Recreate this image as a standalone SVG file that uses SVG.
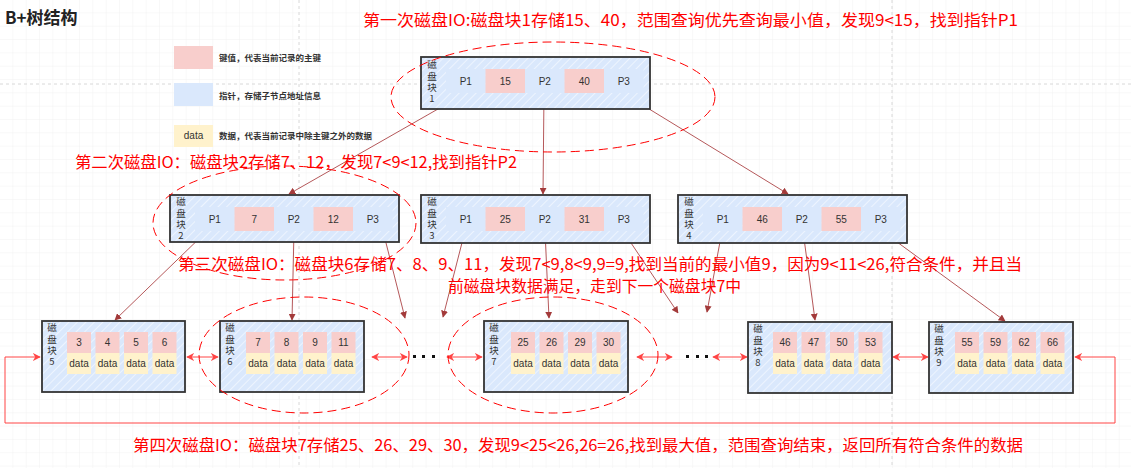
<svg xmlns="http://www.w3.org/2000/svg" width="1131" height="468" viewBox="0 0 1131 468">
<defs>
<style>
.cjk{font-family:"Noto Sans CJK SC","Noto Sans",sans-serif}
.red{fill:#ff0000;font-size:16px}
.leg{fill:#333;font-size:8.5px;font-weight:bold}
.box{fill:url(#hatch);stroke:#333;stroke-width:1.8}
.pc{fill:#dae8fc}
.kc{fill:#f8cecc}
.dc{fill:#fff2cc}
.ct{font-family:"Liberation Sans",Arial,sans-serif;font-size:10px;fill:#333;text-anchor:middle}
.lb{font-family:"Noto Sans CJK SC",sans-serif;font-size:9.5px;fill:#333;writing-mode:vertical-rl;text-orientation:upright;letter-spacing:1.8px}
.ell{fill:none;stroke:#ff0000;stroke-width:1;stroke-dasharray:9 5}
.tree{stroke:#b5585a;stroke-width:1;fill:none;marker-end:url(#ah)}
.link{stroke:#f44;stroke-width:1;fill:none;marker-end:url(#ra);marker-start:url(#ra)}
</style>
<pattern id="grid" width="13.33" height="13.33" patternUnits="userSpaceOnUse">
<path d="M13.33 0V13.33H0" fill="none" stroke="#eeeeee" stroke-width="0.8"/>
</pattern>
<pattern id="hatch" width="6" height="6" patternUnits="userSpaceOnUse" patternTransform="rotate(45)">
<rect width="6" height="6" fill="#dae8fc"/>
<line x1="0" y1="0" x2="0" y2="6" stroke="#ffffff" stroke-width="1.4" opacity="0.75"/>
</pattern>
<marker id="ah" viewBox="0 0 10 10" refX="9" refY="5" markerWidth="7" markerHeight="7" markerUnits="userSpaceOnUse" orient="auto">
<path d="M0 0L10 5L0 10z" fill="#a33a3a"/>
</marker>
<marker id="ra" viewBox="0 0 10 10" refX="9" refY="5" markerWidth="8" markerHeight="8" markerUnits="userSpaceOnUse" orient="auto-start-reverse">
<path d="M0 0L10 5L0 10L3 5z" fill="#f44"/>
</marker>
</defs>
<rect width="1131" height="468" fill="#ffffff"/>
<rect width="1131" height="468" fill="url(#grid)"/>
<g stroke="#d8d8d8" stroke-width="1" stroke-dasharray="3 3" fill="none">
<path d="M0 84H1131"/>
<path d="M299 0V468"/>
<path d="M892 0V468"/>
</g>

<text x="5" y="24" class="cjk" font-size="17" font-weight="bold" fill="#222">B+树结构</text>

<g id="legend">
<rect x="174" y="46" width="39" height="23" class="kc"/>
<text x="219" y="61" class="cjk leg">键值，代表当前记录的主键</text>
<rect x="174" y="83" width="39" height="23" class="pc"/>
<text x="219" y="99" class="cjk leg">指针，存储子节点地址信息</text>
<rect x="174" y="125" width="39" height="22" class="dc"/>
<text x="193.5" y="139" class="ct" font-size="8.5">data</text>
<text x="219" y="139" class="cjk leg">数据，代表当前记录中除主键之外的数据</text>
</g>

<g id="connectors">
<path class="tree" d="M466 93L289 194"/>
<path class="tree" d="M544 93L543 194"/>
<path class="tree" d="M623 93L788 194"/>
<path class="tree" d="M207 231L115 320"/>
<path class="tree" d="M294 231L292 320"/>
<path class="tree" d="M383 231L405 318"/>
<path class="tree" d="M465 231L443 317"/>
<path class="tree" d="M545 231L549 318"/>
<path class="tree" d="M623 231L678 313"/>
<path class="tree" d="M722 231L707 312"/>
<path class="tree" d="M803 231L815 320"/>
<path class="tree" d="M882 231L1005 321"/>
<path class="link" d="M187 357H218"/>
<path class="link" d="M372 357H407"/>
<path class="link" d="M447 357H482"/>
<path class="link" d="M637 357H672"/>
<path class="link" d="M713 357H747"/>
<path class="link" d="M893 357H928"/>
<path class="link" d="M1075 357H1115V423H5V357H40"/>
</g>

<g id="root">
<rect x="421" y="57" width="229" height="52" class="box"/>
<text x="432" y="60" class="lb">磁盘块1</text>
<rect x="446" y="69" width="39.5" height="24" class="pc"/>
<rect x="485.5" y="69" width="39.5" height="24" class="kc"/>
<rect x="525" y="69" width="39.5" height="24" class="pc"/>
<rect x="564.5" y="69" width="39.5" height="24" class="kc"/>
<rect x="604" y="69" width="39.5" height="24" class="pc"/>
<text class="ct" y="85"><tspan x="465.75">P1</tspan><tspan x="505.25">15</tspan><tspan x="544.75">P2</tspan><tspan x="584.25">40</tspan><tspan x="623.75">P3</tspan></text>
</g>

<g id="node2">
<rect x="170" y="195" width="229" height="47" class="box"/>
<text x="181" y="197" class="lb">磁盘块2</text>
<rect x="195" y="207" width="39.5" height="24" class="pc"/>
<rect x="234.5" y="207" width="39.5" height="24" class="kc"/>
<rect x="274" y="207" width="39.5" height="24" class="pc"/>
<rect x="313.5" y="207" width="39.5" height="24" class="kc"/>
<rect x="353" y="207" width="39.5" height="24" class="pc"/>
<text class="ct" y="223"><tspan x="214.75">P1</tspan><tspan x="254.25">7</tspan><tspan x="293.75">P2</tspan><tspan x="333.25">12</tspan><tspan x="372.75">P3</tspan></text>
</g>

<g id="node3">
<rect x="421" y="195" width="229" height="48" class="box"/>
<text x="432" y="197" class="lb">磁盘块3</text>
<rect x="446" y="207" width="39.5" height="24" class="pc"/>
<rect x="485.5" y="207" width="39.5" height="24" class="kc"/>
<rect x="525" y="207" width="39.5" height="24" class="pc"/>
<rect x="564.5" y="207" width="39.5" height="24" class="kc"/>
<rect x="604" y="207" width="39.5" height="24" class="pc"/>
<text class="ct" y="223"><tspan x="465.75">P1</tspan><tspan x="505.25">25</tspan><tspan x="544.75">P2</tspan><tspan x="584.25">31</tspan><tspan x="623.75">P3</tspan></text>
</g>

<g id="node4">
<rect x="678" y="195" width="229" height="48" class="box"/>
<text x="689" y="197" class="lb">磁盘块4</text>
<rect x="703" y="207" width="39.5" height="24" class="pc"/>
<rect x="742.5" y="207" width="39.5" height="24" class="kc"/>
<rect x="782" y="207" width="39.5" height="24" class="pc"/>
<rect x="821.5" y="207" width="39.5" height="24" class="kc"/>
<rect x="861" y="207" width="39.5" height="24" class="pc"/>
<text class="ct" y="223"><tspan x="722.75">P1</tspan><tspan x="762.25">46</tspan><tspan x="801.75">P2</tspan><tspan x="841.25">55</tspan><tspan x="880.75">P3</tspan></text>
</g>

<g id="leaf5">
<rect x="42" y="321" width="143" height="71" class="box"/>
<text x="52" y="323" class="lb">磁盘块5</text>
<g class="kc"><rect x="67" y="332" width="24" height="21"/><rect x="95.5" y="332" width="24" height="21"/><rect x="124" y="332" width="24" height="21"/><rect x="152.5" y="332" width="24" height="21"/></g>
<g class="dc"><rect x="67" y="353" width="24" height="21"/><rect x="95.5" y="353" width="24" height="21"/><rect x="124" y="353" width="24" height="21"/><rect x="152.5" y="353" width="24" height="21"/></g>
<text class="ct" y="346"><tspan x="79">3</tspan><tspan x="107.5">4</tspan><tspan x="136">5</tspan><tspan x="164.5">6</tspan></text>
<text class="ct" y="367"><tspan x="79">data</tspan><tspan x="107.5">data</tspan><tspan x="136">data</tspan><tspan x="164.5">data</tspan></text>
</g>

<g id="leaf6">
<rect x="220" y="321" width="144" height="71" class="box"/>
<text x="230" y="323" class="lb">磁盘块6</text>
<g class="kc"><rect x="246" y="332" width="24" height="21"/><rect x="274.5" y="332" width="24" height="21"/><rect x="303" y="332" width="24" height="21"/><rect x="331.5" y="332" width="24" height="21"/></g>
<g class="dc"><rect x="246" y="353" width="24" height="21"/><rect x="274.5" y="353" width="24" height="21"/><rect x="303" y="353" width="24" height="21"/><rect x="331.5" y="353" width="24" height="21"/></g>
<text class="ct" y="346"><tspan x="258">7</tspan><tspan x="286.5">8</tspan><tspan x="315">9</tspan><tspan x="343.5">11</tspan></text>
<text class="ct" y="367"><tspan x="258">data</tspan><tspan x="286.5">data</tspan><tspan x="315">data</tspan><tspan x="343.5">data</tspan></text>
</g>

<g id="leaf7">
<rect x="484" y="321" width="144" height="71" class="box"/>
<text x="494" y="323" class="lb">磁盘块7</text>
<g class="kc"><rect x="511" y="332" width="24" height="21"/><rect x="539.5" y="332" width="24" height="21"/><rect x="568" y="332" width="24" height="21"/><rect x="596.5" y="332" width="24" height="21"/></g>
<g class="dc"><rect x="511" y="353" width="24" height="21"/><rect x="539.5" y="353" width="24" height="21"/><rect x="568" y="353" width="24" height="21"/><rect x="596.5" y="353" width="24" height="21"/></g>
<text class="ct" y="346"><tspan x="523">25</tspan><tspan x="551.5">26</tspan><tspan x="580">29</tspan><tspan x="608.5">30</tspan></text>
<text class="ct" y="367"><tspan x="523">data</tspan><tspan x="551.5">data</tspan><tspan x="580">data</tspan><tspan x="608.5">data</tspan></text>
</g>

<g id="leaf8">
<rect x="748" y="322" width="144" height="71" class="box"/>
<text x="758" y="324" class="lb">磁盘块8</text>
<g class="kc"><rect x="773" y="332" width="24" height="21"/><rect x="801.5" y="332" width="24" height="21"/><rect x="830" y="332" width="24" height="21"/><rect x="858.5" y="332" width="24" height="21"/></g>
<g class="dc"><rect x="773" y="353" width="24" height="21"/><rect x="801.5" y="353" width="24" height="21"/><rect x="830" y="353" width="24" height="21"/><rect x="858.5" y="353" width="24" height="21"/></g>
<text class="ct" y="346"><tspan x="785">46</tspan><tspan x="813.5">47</tspan><tspan x="842">50</tspan><tspan x="870.5">53</tspan></text>
<text class="ct" y="367"><tspan x="785">data</tspan><tspan x="813.5">data</tspan><tspan x="842">data</tspan><tspan x="870.5">data</tspan></text>
</g>

<g id="leaf9">
<rect x="929" y="322" width="144" height="71" class="box"/>
<text x="939" y="324" class="lb">磁盘块9</text>
<g class="kc"><rect x="955" y="332" width="24" height="21"/><rect x="983.5" y="332" width="24" height="21"/><rect x="1012" y="332" width="24" height="21"/><rect x="1040.5" y="332" width="24" height="21"/></g>
<g class="dc"><rect x="955" y="353" width="24" height="21"/><rect x="983.5" y="353" width="24" height="21"/><rect x="1012" y="353" width="24" height="21"/><rect x="1040.5" y="353" width="24" height="21"/></g>
<text class="ct" y="346"><tspan x="967">55</tspan><tspan x="995.5">59</tspan><tspan x="1024">62</tspan><tspan x="1052.5">66</tspan></text>
<text class="ct" y="367"><tspan x="967">data</tspan><tspan x="995.5">data</tspan><tspan x="1024">data</tspan><tspan x="1052.5">data</tspan></text>
</g>

<g id="dots" fill="#111">
<rect x="413" y="355" width="3" height="3"/><rect x="422" y="355" width="3" height="3"/><rect x="432" y="355" width="3" height="3"/>
<rect x="686" y="355" width="3" height="3"/><rect x="696" y="355" width="3" height="3"/><rect x="705" y="355" width="3" height="3"/>
</g>

<g id="highlights">
<ellipse class="ell" cx="553" cy="97" rx="162" ry="55"/>
<ellipse class="ell" cx="284.5" cy="223" rx="131.5" ry="57"/>
<ellipse class="ell" cx="304" cy="355" rx="105" ry="58"/>
<ellipse class="ell" cx="553" cy="355" rx="105" ry="58"/>
</g>

<g id="notes" class="cjk">
<text x="363" y="26" class="red" textLength="655" lengthAdjust="spacingAndGlyphs">第一次磁盘IO:磁盘块1存储15、40，范围查询优先查询最小值，发现9&lt;15，找到指针P1</text>
<text x="75" y="168" class="red" textLength="442" lengthAdjust="spacingAndGlyphs">第二次磁盘IO：磁盘块2存储7、12，发现7&lt;9&lt;12,找到指针P2</text>
<text x="178" y="270" class="red" font-size="15" textLength="844" lengthAdjust="spacingAndGlyphs">第三次磁盘IO：磁盘块6存储7、8、9、11，发现7&lt;9,8&lt;9,9=9,找到当前的最小值9，因为9&lt;11&lt;26,符合条件，并且当</text>
<text x="448" y="292" class="red" font-size="15" textLength="293" lengthAdjust="spacingAndGlyphs">前磁盘块数据满足，走到下一个磁盘块7中</text>
<text x="133" y="451" class="red" textLength="890" lengthAdjust="spacingAndGlyphs">第四次磁盘IO：磁盘块7存储25、26、29、30，发现9&lt;25&lt;26,26=26,找到最大值，范围查询结束，返回所有符合条件的数据</text>
</g>
</svg>
